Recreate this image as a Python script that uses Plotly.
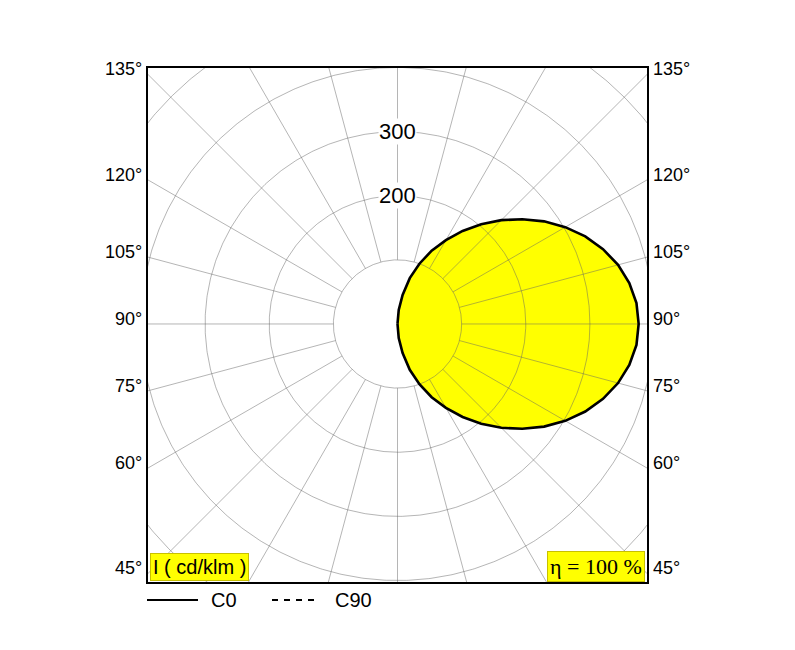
import numpy as np
import plotly.graph_objects as go

# ---- data ----
gamma_deg = [0, 5, 10, 15, 20, 25, 30, 35, 40, 45, 50, 55, 60, 65, 70, 75, 80, 85, 90,
             95, 100, 105, 110, 115, 120, 125, 130, 135, 140, 145, 150, 155, 160, 165,
             170, 175, 180]
c0_intensity = [0, 22, 46, 74, 100, 126, 151, 177, 203, 229, 254, 279, 302, 323, 341, 356,
                367, 374, 376, 374, 367, 356, 341, 323, 302, 279, 254, 229, 203, 177, 151,
                126, 100, 74, 46, 22, 0]
grid_circles = [100, 200, 300, 400, 500]
circle_labels = [200, 300]
side_angles = [45, 60, 75, 90, 105, 120, 135]
radial_angles = list(range(0, 360, 15))

X_HALF = 389.0
Y_TOP, Y_BOT = 399.1, -402.3

FONT = "Arial, Liberation Sans, sans-serif"

fig = go.Figure()

# filled C0 curve (no outline)
g = np.radians(gamma_deg)
r = np.array(c0_intensity, dtype=float)
cx = r * np.sin(g)
cy = -r * np.cos(g)
fig.add_trace(go.Scatter(x=cx, y=cy, mode="lines", fill="toself", fillcolor="#FFFF00",
                         line=dict(width=0, color="rgba(0,0,0,0)"), hoverinfo="skip",
                         showlegend=False))

# grid: circles
gx, gy = [], []
t = np.linspace(0, 2 * np.pi, 721)
for R in grid_circles:
    gx += list(R * np.cos(t)) + [None]
    gy += list(R * np.sin(t)) + [None]
# grid: radial lines from inner circle outward
for a in radial_angles:
    ar = np.radians(a)
    gx += [100 * np.sin(ar), 700 * np.sin(ar), None]
    gy += [-100 * np.cos(ar), -700 * np.cos(ar), None]
fig.add_trace(go.Scatter(x=gx, y=gy, mode="lines",
                         line=dict(color="rgba(100,100,100,0.6)", width=0.8),
                         hoverinfo="skip", showlegend=False))

# C0 outline
fig.add_trace(go.Scatter(x=cx, y=cy, mode="lines",
                         line=dict(color="black", width=2.6), hoverinfo="skip",
                         showlegend=False))

annotations = []
for v in circle_labels:
    annotations.append(dict(x=0, y=v, xref="x", yref="y", text=str(v), showarrow=False,
                            font=dict(family=FONT, size=22, color="black"),
                            bgcolor="white", borderpad=0))
for a in side_angles:
    ar = np.radians(a)
    yv = -X_HALF * np.cos(ar) / np.sin(ar)
    for side in (0, 1):
        annotations.append(dict(x=side, y=yv, xref="paper", yref="y", text=f"{a}°",
                                showarrow=False, xanchor="right" if side == 0 else "left",
                                xshift=-4 if side == 0 else 4, yshift=5,
                                font=dict(family=FONT, size=18, color="black")))

# unit box and efficiency box
annotations.append(dict(x=0.004, y=0.002, xref="paper", yref="paper", text="I ( cd/klm )",
                        showarrow=False, xanchor="left", yanchor="bottom",
                        font=dict(family=FONT, size=20, color="black"),
                        bgcolor="#FFFF00", bordercolor="#c8c000", borderwidth=1, borderpad=2))
annotations.append(dict(x=0.996, y=0.0, xref="paper", yref="paper", text="η = 100 %",
                        showarrow=False, xanchor="right", yanchor="bottom",
                        font=dict(family="Liberation Serif, Times New Roman, serif", size=22,
                                  color="black"),
                        bgcolor="#FFFF00", bordercolor="#c8c000", borderwidth=1, borderpad=2))

# legend (drawn manually); positions expressed relative to the plot box
def px_x(p):
    return (p - 148) / 499.0

def px_y(p):
    return (582 - p) / 514.0

shapes = [
    dict(type="line", xref="paper", yref="paper", x0=px_x(147), x1=px_x(198),
         y0=px_y(600), y1=px_y(600), line=dict(color="black", width=2)),
    dict(type="line", xref="paper", yref="paper", x0=px_x(272), x1=px_x(316),
         y0=px_y(600), y1=px_y(600), line=dict(color="black", width=2, dash="6px,6px")),
]
annotations.append(dict(x=px_x(209), y=px_y(600), xref="paper", yref="paper", text="C0",
                        showarrow=False, xanchor="left", yanchor="middle",
                        font=dict(family=FONT, size=20, color="black")))
annotations.append(dict(x=px_x(333), y=px_y(600), xref="paper", yref="paper", text="C90",
                        showarrow=False, xanchor="left", yanchor="middle",
                        font=dict(family=FONT, size=20, color="black")))

fig.update_layout(
    width=795, height=650,
    margin=dict(l=140, r=156, t=60, b=76),
    paper_bgcolor="white", plot_bgcolor="white",
    xaxis=dict(range=[-X_HALF, X_HALF], showgrid=False, zeroline=False,
               showticklabels=False, ticks="", showline=True, mirror=True,
               linecolor="black", linewidth=2),
    yaxis=dict(range=[Y_BOT, Y_TOP], showgrid=False, zeroline=False,
               showticklabels=False, ticks="", showline=True, mirror=True,
               linecolor="black", linewidth=2),
    annotations=annotations,
    shapes=shapes,
    showlegend=False,
)

fig.write_html("out.html")
